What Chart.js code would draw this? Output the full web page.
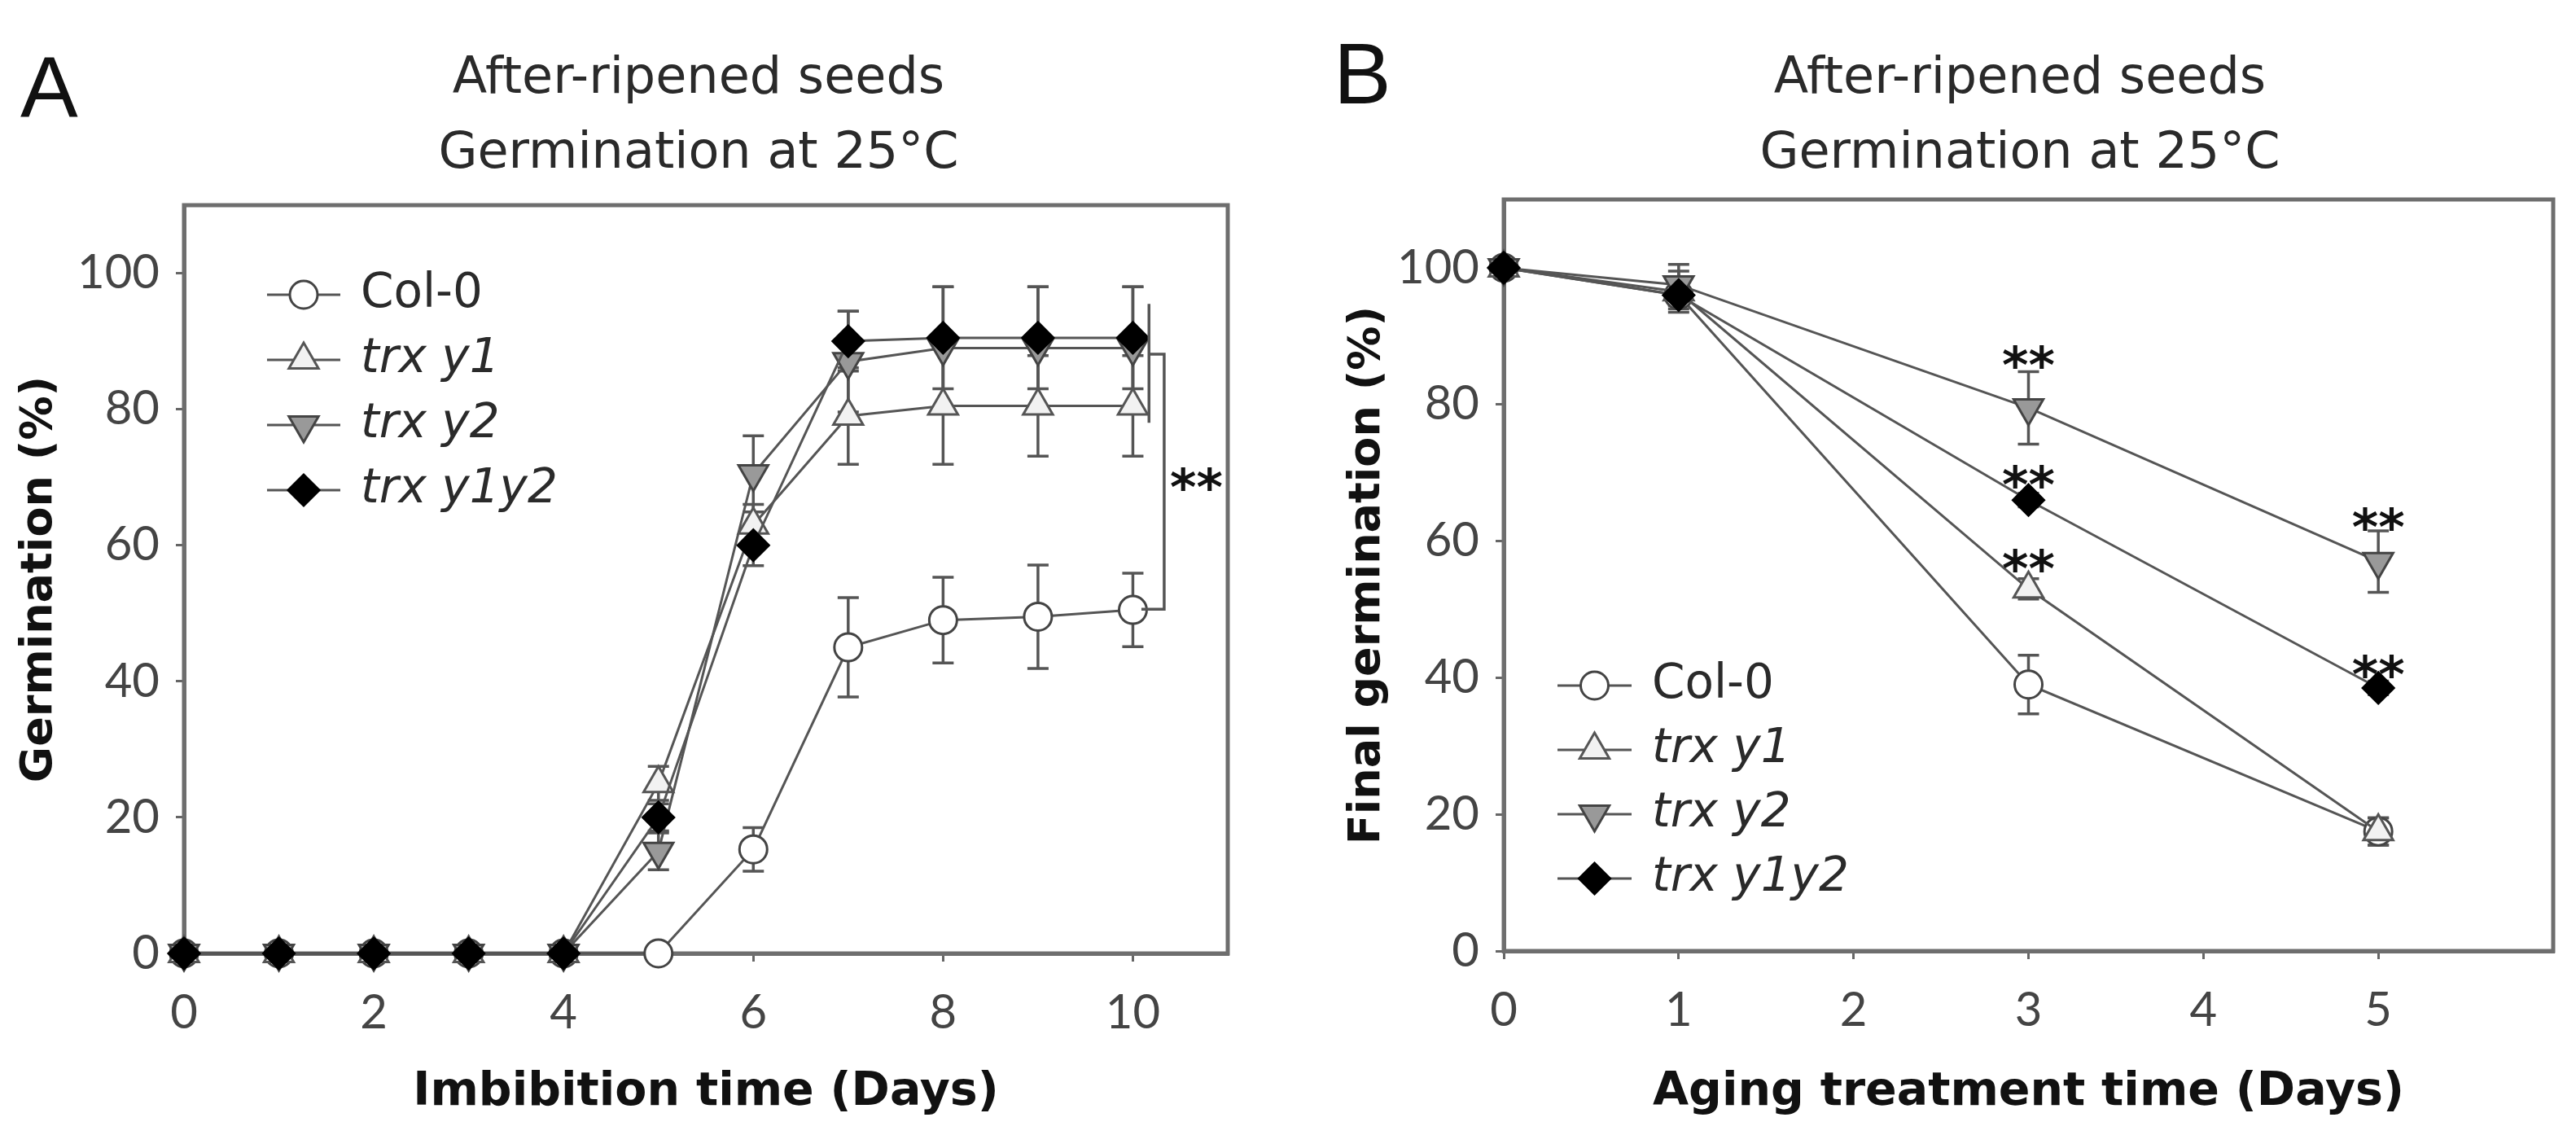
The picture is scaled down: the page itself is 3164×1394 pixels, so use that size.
<!DOCTYPE html>
<html lang="en">
<head>
  <meta charset="UTF-8" />
  <title>After-ripened seeds germination</title>
  <script src="https://cdn.jsdelivr.net/npm/chart.js"></script>
  <style>
    html, body {
      margin: 0;
      padding: 0;
      background: #fff;
    }

    .page {
      position: relative;
      width: 3164px;
      height: 1394px;
      overflow: hidden;
    }

    .panel {
      position: absolute;
      top: 0;
      height: 1394px;
    }

    #panelA { left: 0; width: 1580px; }
    #panelB { left: 1580px; width: 1584px; }

    .letter {
      position: absolute;
      font-family: 'Liberation Sans', Arial, sans-serif;
      font-size: 106px;
      line-height: 1;
      color: #111;
    }

    .title {
      position: absolute;
      width: 1000px;
      margin-left: -500px;
      text-align: center;
      font-family: 'DejaVu Sans', sans-serif;
      font-size: 62px;
      line-height: 1;
      color: #2a2a2a;
      white-space: nowrap;
    }
  </style>
</head>
<body>
  <div class="page">
    <canvas id="panelA" class="panel" width="1580" height="1394"></canvas>
    <canvas id="panelB" class="panel" width="1584" height="1394"></canvas>

    <div class="letter" style="left:25px; top:53px;">A</div>
    <div class="letter" style="left:1638px; top:37px;">B</div>

    <div class="title" style="left:858px; top:62px;">After-ripened seeds</div>
    <div class="title" style="left:858px; top:154px;">Germination at 25°C</div>
    <div class="title" style="left:2481px; top:62px;">After-ripened seeds</div>
    <div class="title" style="left:2481px; top:154px;">Germination at 25°C</div>
  </div>

  <script>
    // ---- data ----
    const seriesNames = ['Col-0', 'trx y1', 'trx y2', 'trx y1y2'];

    // A: germination over imbibition time
    const daysA = [0, 1, 2, 3, 4, 5, 6, 7, 8, 9, 10];
    const xTicksA = [0, 2, 4, 6, 8, 10];
    const yTicks = [0, 20, 40, 60, 80, 100];
    const col0A = [0, 0, 0, 0, 0, 0, 15.3, 45, 49, 49.5, 50.5];
    const col0ErrA = [0, 0, 0, 0, 0, 0, 3.2, 7.3, 6.3, 7.6, 5.4];
    const y1A = [0, 0, 0, 0, 0, 25, 63, 79, 80.5, 80.5, 80.5];
    const y1ErrA = [0, 0, 0, 0, 0, 2.5, 3, 7.1, 8.6, 7.4, 7.4];
    const y2A = [0, 0, 0, 0, 0, 15, 70.5, 87, 89, 89, 89];
    const y2ErrA = [0, 0, 0, 0, 0, 2.7, 5.6, 7.4, 9, 9, 9];
    const y1y2A = [0, 0, 0, 0, 0, 20, 60, 90, 90.5, 90.5, 90.5];
    const y1y2ErrA = [0, 0, 0, 0, 0, 2, 3, 4.4, 7.5, 7.5, 7.5];
    const starXA = [10.67];
    const starYA = [70.4];
    const bracketXA = [[10.17, 10.17], [10.17, 10.33, 10.33, 10.09]];
    const bracketYA = [[95.5, 78], [88.1, 88.1, 50.6, 50.6]];

    // B: final germination after aging treatment
    const daysB = [0, 1, 3, 5];
    const xTicksB = [0, 1, 2, 3, 4, 5];
    const col0B = [100, 96, 39, 17.5];
    const col0ErrB = [0, 2, 4.3, 2];
    const y1B = [100, 96.5, 53, 17.5];
    const y1ErrB = [0, 3, 1.5, 2];
    const y2B = [100, 97.5, 79.5, 57];
    const y2ErrB = [0, 3, 5.3, 4.5];
    const y1y2B = [100, 96, 66, 38.5];
    const y1y2ErrB = [0, 1.5, 1, 1];
    const starXB = [3, 3, 3, 5, 5];
    const starYB = [87.6, 70.1, 57.8, 63.9, 42.3];

    // ---- marker styles ----
    const styles = [
      { pointStyle: 'circle', radius: 17, rotation: 0, fill: '#ffffff', border: '#444' },
      { pointStyle: 'triangle', radius: 21, rotation: 0, fill: '#f2f2f2', border: '#555' },
      { pointStyle: 'triangle', radius: 21, rotation: 180, fill: '#999999', border: '#444' },
      { pointStyle: 'rectRot', radius: 19, rotation: 0, fill: '#000000', border: '#000' }
    ];

    function makeDatasets(xs, ys, errs) {
      return ys.map((vals, i) => ({
        label: seriesNames[i],
        data: xs.map((x, j) => ({ x: x, y: vals[j] })),
        errors: errs[i],
        order: ys.length - 1 - i,
        clip: false,
        borderColor: '#555',
        borderWidth: 3,
        pointStyle: styles[i].pointStyle,
        pointRadius: styles[i].radius,
        pointHoverRadius: styles[i].radius,
        pointRotation: styles[i].rotation,
        pointBackgroundColor: styles[i].fill,
        pointBorderColor: styles[i].border,
        pointBorderWidth: 3,
        tension: 0,
        fill: false
      }));
    }

    // error bars, drawn under the markers
    const errorBars = {
      id: 'errorBars',
      beforeDatasetsDraw(chart) {
        const { ctx, scales: { x, y } } = chart;
        ctx.save();
        ctx.strokeStyle = '#555';
        ctx.lineWidth = 3.5;
        chart.data.datasets.forEach(ds => {
          ds.data.forEach((p, j) => {
            const e = ds.errors[j];
            if (!e) return;
            const px = x.getPixelForValue(p.x);
            const top = y.getPixelForValue(p.y + e);
            const bot = y.getPixelForValue(p.y - e);
            ctx.beginPath();
            ctx.moveTo(px, top); ctx.lineTo(px, bot);
            ctx.moveTo(px - 13, top); ctx.lineTo(px + 13, top);
            ctx.moveTo(px - 13, bot); ctx.lineTo(px + 13, bot);
            ctx.stroke();
          });
        });
        ctx.restore();
      }
    };

    // box around the plot area, drawn before the markers so they sit on it
    const frame = {
      id: 'frame',
      beforeDatasetsDraw(chart) {
        const { ctx, chartArea: a } = chart;
        ctx.save();
        ctx.strokeStyle = '#6e6e6e';
        ctx.lineWidth = 5;
        ctx.strokeRect(a.left, a.top, a.right - a.left, a.bottom - a.top);
        ctx.restore();
      }
    };

    // significance stars and brackets
    const marks = {
      id: 'marks',
      afterDatasetsDraw(chart, args, opts) {
        const { ctx, scales: { x, y } } = chart;
        ctx.save();
        ctx.strokeStyle = '#555';
        ctx.lineWidth = 3.5;
        (opts.bracketX || []).forEach((bx, k) => {
          const by = opts.bracketY[k];
          ctx.beginPath();
          bx.forEach((v, j) => {
            const px = x.getPixelForValue(v), py = y.getPixelForValue(by[j]);
            if (j === 0) ctx.moveTo(px, py); else ctx.lineTo(px, py);
          });
          ctx.stroke();
        });
        const size = 62;
        ctx.font = 'bold ' + size + 'px "DejaVu Sans"';
        ctx.fillStyle = '#111';
        ctx.textAlign = 'center';
        ctx.textBaseline = 'alphabetic';
        opts.starX.forEach((sx, k) => {
          ctx.fillText('**', x.getPixelForValue(sx), y.getPixelForValue(opts.starY[k]) + size * 0.6);
        });
        ctx.restore();
      }
    };

    // legend drawn inside the plot
    const innerLegend = {
      id: 'innerLegend',
      afterDraw(chart, args, opts) {
        const { ctx } = chart;
        ctx.save();
        chart.data.datasets.forEach((ds, i) => {
          const cy = opts.top + i * opts.step;
          ctx.strokeStyle = '#555';
          ctx.lineWidth = 3;
          ctx.beginPath();
          ctx.moveTo(opts.lineLeft, cy);
          ctx.lineTo(opts.lineRight, cy);
          ctx.stroke();
          ctx.fillStyle = ds.pointBackgroundColor;
          ctx.strokeStyle = ds.pointBorderColor;
          ctx.lineWidth = 3;
          Chart.helpers.drawPoint(ctx, {
            pointStyle: ds.pointStyle,
            radius: ds.pointRadius,
            rotation: ds.pointRotation,
            borderWidth: 3
          }, (opts.lineLeft + opts.lineRight) / 2, cy);
          ctx.fillStyle = '#2a2a2a';
          ctx.textAlign = 'left';
          ctx.textBaseline = 'middle';
          ctx.font = (i === 0 ? '' : 'italic ') + '58px "DejaVu Sans"';
          ctx.fillText(ds.label, opts.textLeft, cy);
        });
        ctx.restore();
      }
    };

    function makeChart(id, cfg) {
      return new Chart(document.getElementById(id), {
        type: 'line',
        data: { datasets: makeDatasets(cfg.xs, cfg.ys, cfg.errs) },
        options: {
          responsive: false,
          devicePixelRatio: 1,
          animation: false,
          layout: { padding: { left: 0, top: cfg.top, right: cfg.right, bottom: 0 } },
          plugins: {
            legend: { display: false },
            tooltip: { enabled: false },
            title: { display: false },
            innerLegend: cfg.legend,
            marks: cfg.marks
          },
          scales: {
            x: {
              type: 'linear',
              min: cfg.xMin,
              max: cfg.xMax,
              afterBuildTicks: s => { s.ticks = cfg.xTicks.map(v => ({ value: v })); },
              afterFit: s => { s.height = cfg.xAxisHeight; },
              grid: { drawOnChartArea: false, drawTicks: true, tickLength: 10, color: '#666', lineWidth: 3 },
              border: { display: true, color: '#6e6e6e', width: 5 },
              ticks: { padding: 28, color: '#444', font: { family: 'Lato', size: 58 } },
              title: {
                display: true,
                text: cfg.xTitle,
                color: '#111',
                font: { family: 'DejaVu Sans', size: 57, weight: 'bold' },
                padding: { top: 0, bottom: 18 }
              }
            },
            y: {
              type: 'linear',
              min: 0,
              max: 110,
              afterBuildTicks: s => { s.ticks = yTicks.map(v => ({ value: v })); },
              afterFit: s => { s.width = cfg.yAxisWidth; },
              grid: { drawOnChartArea: false, drawTicks: true, tickLength: 10, color: '#666', lineWidth: 3 },
              border: { display: true, color: '#6e6e6e', width: 5 },
              ticks: { padding: 20, color: '#444', font: { family: 'Lato', size: 58 } },
              title: {
                display: true,
                text: cfg.yTitle,
                color: '#111',
                font: { family: 'DejaVu Sans', size: 54, weight: 'bold' },
                padding: { top: cfg.yTitlePad, bottom: 0 }
              }
            }
          }
        },
        plugins: [frame, errorBars, marks, innerLegend]
      });
    }

    makeChart('panelA', {
      xs: daysA,
      ys: [col0A, y1A, y2A, y1y2A],
      errs: [col0ErrA, y1ErrA, y2ErrA, y1y2ErrA],
      xMin: 0, xMax: 11, xTicks: xTicksA,
      top: 252, right: 72,
      xAxisHeight: 223, yAxisWidth: 226,
      yTitlePad: 17,
      xTitle: 'Imbibition time (Days)',
      yTitle: 'Germination (%)',
      legend: { top: 362, step: 80, lineLeft: 328, lineRight: 418, textLeft: 443 },
      marks: { starX: starXA, starY: starYA, bracketX: bracketXA, bracketY: bracketYA }
    });

    makeChart('panelB', {
      xs: daysB,
      ys: [col0B, y1B, y2B, y1y2B],
      errs: [col0ErrB, y1ErrB, y2ErrB, y1y2ErrB],
      xMin: 0, xMax: 6, xTicks: xTicksB,
      top: 245, right: 28,
      xAxisHeight: 226, yAxisWidth: 267,
      yTitlePad: 68,
      xTitle: 'Aging treatment time (Days)',
      yTitle: 'Final germination (%)',
      legend: { top: 842, step: 79, lineLeft: 333, lineRight: 424, textLeft: 449 },
      marks: { starX: starXB, starY: starYB, bracketX: [], bracketY: [] }
    });
  </script>
</body>
</html>
